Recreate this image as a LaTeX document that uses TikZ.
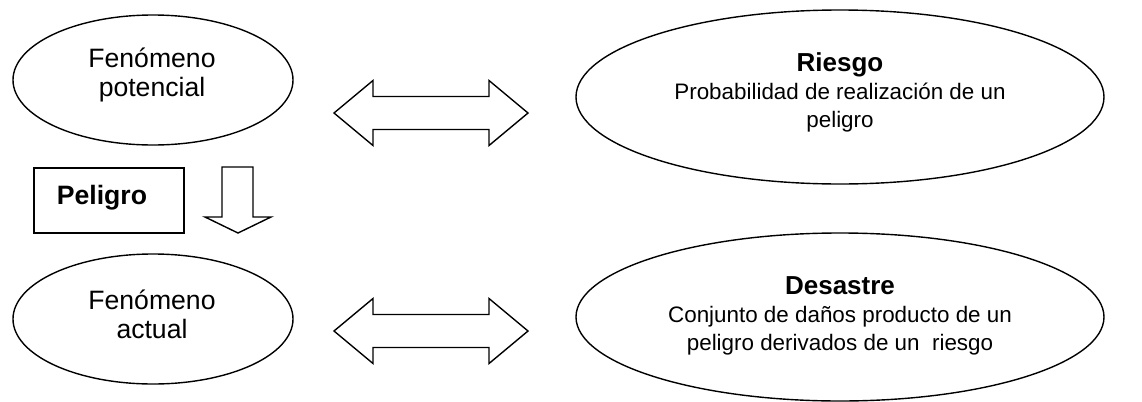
\documentclass[tikz,border=0pt]{standalone}
\usepackage{fontspec}
\setmainfont{Liberation Sans}
\usetikzlibrary{shapes.geometric}
\usetikzlibrary{calc}
\tikzset{elipse/.style={ellipse,draw,line width=0.7pt,inner sep=0pt,minimum width=#1},elipse/.default=140pt}
\tikzset{caja/.style={rectangle,draw,line width=0.7pt,inner sep=0pt,minimum width=75pt,minimum height=32.5pt}}
\tikzset{flecha/.style={draw,line width=0.7pt,line join=miter}}
\tikzset{texto/.style={align=center,inner sep=0pt,font=\fontsize{13.3}{14.5}\selectfont}}
\tikzset{chico/.style={align=center,inner sep=0pt,font=\fontsize{11.2}{14}\selectfont}}
\newcommand{\titulo}[1]{{\fontsize{13}{14}\selectfont\bfseries #1}}

\begin{document}
\begin{tikzpicture}[x=0.5pt,y=-0.5pt]
	\useasboundingbox (0,0) rectangle (1142,402);

	% Fenomenos
	\node[elipse,minimum height=65pt] (FP) at (153,80) {};
	\node[texto] (FPt) at (152,75) {Fenómeno\\potencial};
	\node[elipse,minimum height=65pt] (FA) at (153,319) {};
	\node[texto] (FAt) at (152,314) {Fenómeno\\actual};
	\node[caja] (P) at (109,200.5) {};
	\node[texto] (Pt) at (102,198) {\textbf{Peligro}};

	% Riesgo y desastre
	\node[elipse=264pt,minimum height=87pt] (R) at (840,97) {};
	\node[chico] (Rt) at (840,92)
		{\titulo{Riesgo}\\Probabilidad de realización de un\\peligro};
	\node[elipse=264pt,minimum height=84pt] (D) at (840,317) {};
	\node[chico] (Dt) at (840,316)
		{\titulo{Desastre}\\Conjunto de daños producto de un\\peligro derivados de un~ riesgo};

	% Flechas dobles
	\coordinate (a1) at (431,113);
	\coordinate (a2) at (431,331);
	\foreach \c in {a1,a2}
		\draw[flecha] (\c) ++(-97,0) -- ++(39,-32.5) -- ++(0,16) -- ++(116,0) -- ++(0,-16)
			-- ++(39,32.5) -- ++(-39,32.5) -- ++(0,-16) -- ++(-116,0) -- ++(0,16) -- cycle;

	% Flecha hacia abajo
	\coordinate (a3) at (238,233);
	\draw[flecha] (a3) -- ++(-33,-16) -- ++(17,0) -- ++(0,-50) -- ++(31,0) -- ++(0,50)
		-- ++(18,0) -- cycle;

\end{tikzpicture}
\end{document}
